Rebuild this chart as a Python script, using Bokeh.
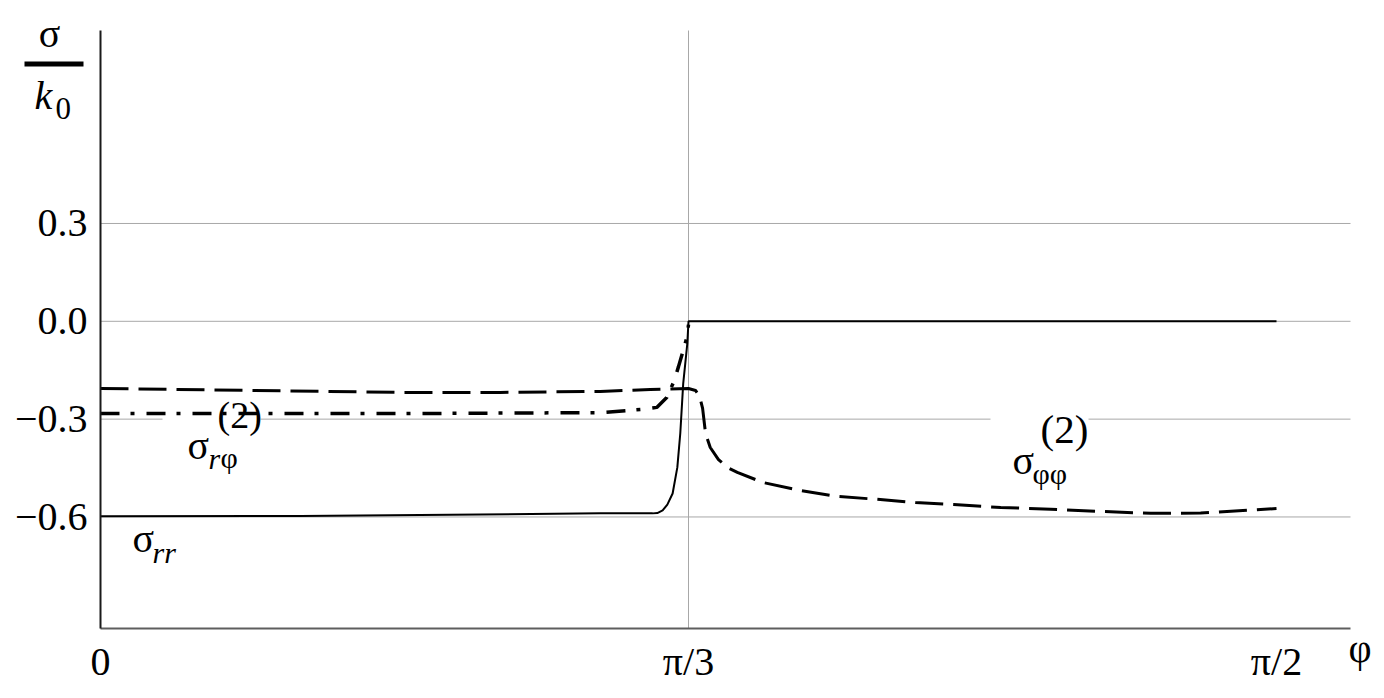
from bokeh.plotting import figure
from bokeh.models import Range1d, FixedTicker, Label, BoxAnnotation
from bokeh.embed import file_html
from bokeh.resources import INLINE

# Horizontal coordinate u: 0 -> phi=0, 1 -> phi=pi/3, 2 -> phi=pi/2 (axis drawn piecewise as in the source)
x_ticks = [0, 1, 2]
x_tick_labels = ["0", "π/3", "π/2"]
y_ticks = [0.3, 0.0, -0.3, -0.6]
y_tick_labels = ["0.3", "0.0", "−0.3", "−0.6"]

# sigma_rr (solid)
rr_u = [0.0, 0.34, 0.85, 0.939, 0.947, 0.956, 0.964, 0.973, 0.981, 0.986, 0.991, 0.998, 1.0, 2.0]
rr_v = [-0.598, -0.597, -0.589, -0.589, -0.588, -0.580, -0.562, -0.528, -0.448, -0.344, -0.191, -0.068, 0.0, 0.0]

# sigma_r_phi^(2) (dash-dot)
rphi_u = [0.0, 0.51, 0.85, 0.922, 0.946, 0.963, 0.976, 0.983, 0.990, 0.998, 1.0]
rphi_v = [-0.283, -0.283, -0.280, -0.270, -0.264, -0.234, -0.181, -0.139, -0.096, -0.044, -0.010]

# sigma_phi_phi^(2) (dashed)
pp_u = [0.0, 0.255, 0.51, 0.68, 0.85, 0.935, 1.0, 1.012, 1.019, 1.024, 1.029, 1.037, 1.051, 1.066,
        1.083, 1.126, 1.190, 1.253, 1.321, 1.386, 1.451, 1.531, 1.616, 1.701, 1.786, 1.871, 1.956, 2.0]
pp_v = [-0.206, -0.212, -0.218, -0.218, -0.215, -0.209, -0.206, -0.212, -0.231, -0.267, -0.344, -0.387,
        -0.424, -0.448, -0.463, -0.494, -0.519, -0.537, -0.546, -0.556, -0.562, -0.571, -0.576, -0.583,
        -0.589, -0.588, -0.579, -0.574]

W, H = 1376, 690
FL, FT, FR, FB = 100, 30, 1350, 628   # plot-area edges on the page


# page-pixel -> data helpers (for placement only)
def ux(px):
    return (px - FL) / 588.0


def vy(py):
    return (320.8 - py) / 326.1


SERIF = "Liberation Serif"

p = figure(width=W, height=H, output_backend="svg", toolbar_location=None,
           x_range=Range1d(ux(0), ux(W)), y_range=Range1d(vy(H), vy(0)),
           min_border_left=0, min_border_top=0, min_border_right=0, min_border_bottom=0)
p.outline_line_color = None
p.background_fill_color = "white"
p.border_fill_color = "white"
p.grid.visible = False

# axes placed at fixed data locations, limited by bounds
p.yaxis.fixed_location = 0.0
p.yaxis.bounds = (vy(FB), vy(FT))
p.xaxis.fixed_location = vy(FB)
p.xaxis.bounds = (0.0, ux(FR))
p.xaxis.ticker = FixedTicker(ticks=x_ticks)
p.xaxis.major_label_overrides = dict(zip(x_ticks, x_tick_labels))
p.yaxis.ticker = FixedTicker(ticks=y_ticks)
p.yaxis.major_label_overrides = dict(zip(y_ticks, y_tick_labels))
for ax in (p.xaxis, p.yaxis):
    ax.major_tick_out = 0
    ax.major_tick_in = 0
    ax.minor_tick_out = 0
    ax.minor_tick_in = 0
    ax.major_label_text_font = SERIF
    ax.major_label_text_font_size = "40px"
    ax.major_label_text_color = "black"
p.yaxis.major_label_standoff = 13
p.xaxis.major_label_standoff = 10
p.yaxis.axis_line_color = "#1a1a1a"
p.yaxis.axis_line_width = 2
p.xaxis.axis_line_color = "#5e5e5e"
p.xaxis.axis_line_width = 2

# grid lines at the tick values
GRID = "#a8a8a8"
p.segment(x0=[0.0] * len(y_ticks), x1=[ux(FR)] * len(y_ticks), y0=y_ticks, y1=y_ticks,
          line_color=GRID, line_width=1)
p.segment(x0=[x_ticks[1]], x1=[x_ticks[1]], y0=[vy(FB)], y1=[vy(FT)],
          line_color=GRID, line_width=1)

# white label boxes (hide grid behind the labels, beneath the curves)
p.quad(left=[ux(162), ux(990)], right=[ux(260), ux(1088)],
       top=[vy(404), vy(408)], bottom=[vy(432), vy(448)],
       fill_color="white", line_color=None)

# curves
p.line(rr_u, rr_v, line_color="black", line_width=2)
p.line(rphi_u, rphi_v, line_color="black", line_width=3.5, line_dash="19 11 4 12")
p.line(pp_u, pp_v, line_color="black", line_width=3, line_dash="28 10")


def txt(s, px, py, size, italic=False, align="left"):
    # py is the wanted baseline on the page; small empirical lift for the renderer
    p.add_layout(Label(x=ux(px), y=vy(py - 0.31 * size), text=s, text_font=SERIF,
                       text_font_size=f"{size}px",
                       text_font_style="italic" if italic else "normal",
                       text_align=align, text_baseline="alphabetic", text_color="black"))


# y title: sigma / k0
txt("σ", 49, 45, 40, align="center")
p.add_layout(BoxAnnotation(left=ux(24), right=ux(83), top=vy(61), bottom=vy(66),
                           fill_color="black", fill_alpha=1.0, line_alpha=0.0))
txt("k", 34, 107, 40, italic=True)
txt("0", 55, 118, 31)

# x title
txt("φ", 1348, 660, 40)

# sigma_r_phi^(2)
txt("σ", 187, 457, 40)
txt("r", 208, 467, 30, italic=True)
txt("φ", 220, 466, 30)
txt("(2)", 217, 426, 38)

# sigma_rr
txt("σ", 132, 550, 40)
txt("rr", 152, 561, 30, italic=True)

# sigma_phi_phi^(2)
txt("σ", 1012, 472, 40)
txt("φφ", 1032, 482, 30)
txt("(2)", 1040, 441, 41)

open("out.html", "w").write(file_html(p, INLINE))
